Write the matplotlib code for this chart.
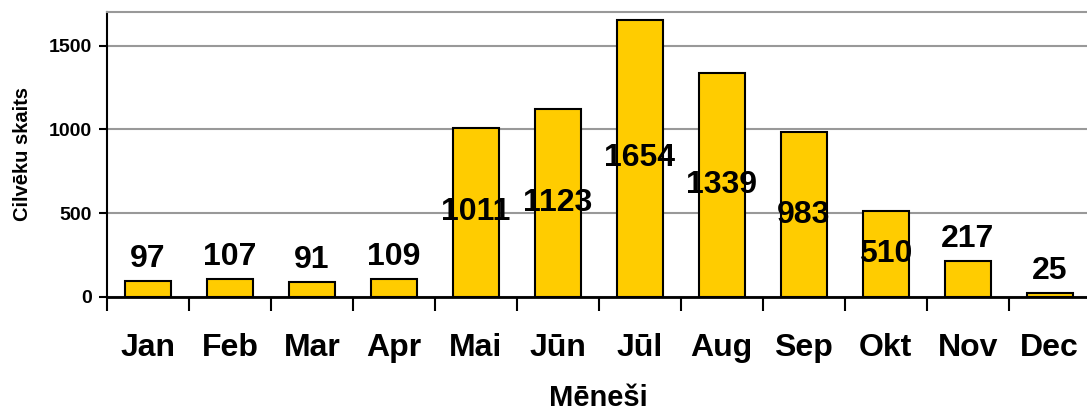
import matplotlib
matplotlib.use('Agg')
import matplotlib.pyplot as plt
import numpy as np

# monthly counts
months = ['Jan', 'Feb', 'Mar', 'Apr', 'Mai', 'Jūn', 'Jūl', 'Aug', 'Sep', 'Okt', 'Nov', 'Dec']
counts = [97, 107, 91, 109, 1011, 1123, 1654, 1339, 983, 510, 217, 25]
yticks = [0, 500, 1000, 1500]

plt.rcParams['font.family'] = ['Liberation Sans', 'DejaVu Sans']
plt.rcParams['font.weight'] = 'bold'

fig = plt.figure(figsize=(10.87, 4.11), dpi=100)
ax = fig.add_axes([0.0984, 0.2774, 0.905, 0.6934])

x = np.arange(len(months))
bars = ax.bar(x, counts, width=0.56, color='#FFCC00', edgecolor='black', linewidth=1.5, zorder=3)

ax.set_xlim(-0.5, len(months) - 0.5)
ax.set_ylim(0, 1700)
ax.set_yticks(yticks)
ax.set_yticklabels([str(v) for v in yticks], fontsize=14, fontweight='bold')
ax.yaxis.grid(True, color='#999999', linewidth=1.5, zorder=0)
ax.tick_params(axis='y', length=6, width=1.5, direction='out', pad=5)

# ticks between categories, labels at the centres
ax.set_xticks(np.arange(len(months) + 1) - 0.5)
ax.set_xticklabels([])
ax.set_xticks(x, minor=True)
ax.set_xticklabels(months, minor=True, fontsize=23, fontweight='bold')
ax.tick_params(axis='x', which='major', length=10, width=1.5, direction='out')
ax.tick_params(axis='x', which='minor', length=0, pad=26)

ax.spines['right'].set_visible(False)
ax.spines['top'].set_color('#999999')
ax.spines['top'].set_linewidth(1.5)
ax.spines['left'].set_linewidth(1.5)
ax.spines['bottom'].set_linewidth(2)

for xi, v in zip(x, counts):
    if v > 400:
        ax.text(xi, v / 2, str(v), ha='center', va='center', fontsize=23, fontweight='bold', zorder=4)
    else:
        ax.annotate(str(v), (xi, v), xytext=(0, 5), textcoords='offset points',
                    ha='center', va='bottom', fontsize=23, fontweight='bold', zorder=4)

ax.set_ylabel('Cilvēku skaits', fontsize=14.5, fontweight='bold', labelpad=12)
ax.set_xlabel('Mēneši', fontsize=21, fontweight='bold', labelpad=15)

fig.savefig('out.png', dpi=100)
